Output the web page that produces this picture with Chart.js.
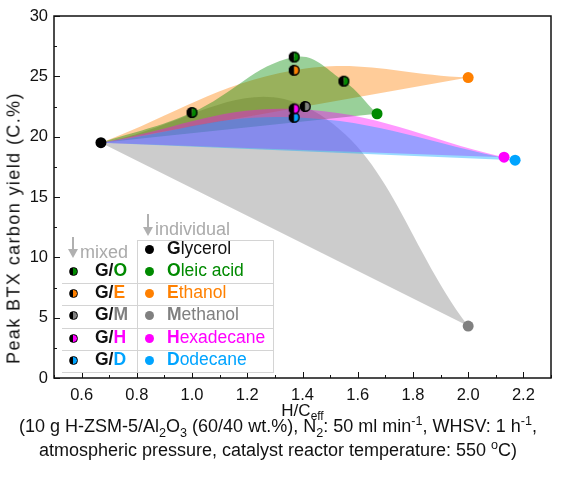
<!DOCTYPE html>
<html>
<head>
<meta charset="utf-8">
<script src="https://cdn.jsdelivr.net/npm/chart.js@4.4.0/dist/chart.umd.min.js"></script>
<style>
body { margin: 0; background: #fff; font-family: "Liberation Sans", Arial, sans-serif; }
#wrap { position: relative; width: 570px; height: 477px; overflow: hidden; }
#wrap canvas { position: absolute; left: 0; top: 0; }
.t { position: absolute; white-space: nowrap; color: #111; }
.t sub, .t sup { font-size: 70%; line-height: 0; }
#ytitle { left: 14px; top: 228px; font-size: 18px; letter-spacing: 1.4px; transform: translate(-50%, -50%) rotate(-90deg); }
#xtitle { left: 54px; width: 497px; top: 401px; text-align: center; font-size: 17px; }
.cap { left: 0; width: 556px; text-align: center; font-size: 18px; }
.lg { position: absolute; white-space: nowrap; font-size: 17.5px; line-height: 1; }
.hl { position: absolute; height: 0; border-top: 1px solid #d4d4d4; }
.vl { position: absolute; width: 0; border-left: 1px solid #d4d4d4; }
.dot { position: absolute; border-radius: 50%; }
.shaft { position: absolute; width: 2px; background: #b0b0b0; }
.head { position: absolute; width: 0; height: 0; border-left: 5px solid transparent; border-right: 5px solid transparent; border-top: 9px solid #b0b0b0; }
</style>
</head>
<body>
<div id="wrap">
  <canvas id="chart" width="570" height="477"></canvas>
  <div class="t" id="ytitle">Peak BTX carbon yield (C.%)</div>
  <div class="t" id="xtitle">H/C<sub>eff</sub></div>
  <div class="t cap" style="top:416px">(10 g H-ZSM-5/Al<sub>2</sub>O<sub>3</sub> (60/40 wt.%), N<sub>2</sub>: 50 ml min<sup>-1</sup>, WHSV: 1 h<sup>-1</sup>,</div>
  <div class="t cap" style="top:440px">atmospheric pressure, catalyst reactor temperature: 550 <sup>o</sup>C)</div>
  <div id="legend"></div>
</div>
<script>
// individual feeds (first one is glycerol)
const individualNames = ["Glycerol", "Oleic acid", "Ethanol", "Methanol", "Hexadecane", "Dodecane"];
const individualHC = [0.67, 1.67, 2.00, 2.00, 2.13, 2.17];
const individualBTX = [19.5, 21.9, 24.9, 4.3, 18.3, 18.05];
const colors = ["#000000", "#008a00", "#ff8000", "#808080", "#ff00ff", "#00a4ff"];

// glycerol co-feed mixtures, one per individual feed (Oleic .. Dodecane)
const mixedNames = ["G/O", "G/E", "G/M", "G/H", "G/D"];
const mixedHC = [[1.00, 1.37, 1.55], [1.37], [1.41], [1.37], [1.37]];
const mixedBTX = [[22.0, 26.6, 24.6], [25.5], [22.5], [22.3], [21.6]];

const xTicks = [0.6, 0.8, 1.0, 1.2, 1.4, 1.6, 1.8, 2.0, 2.2];
const yTicks = [0, 5, 10, 15, 20, 25, 30];

const FONT = "'Liberation Sans', Arial, sans-serif";

function rgba(hex, a) {
    let n = parseInt(hex.slice(1), 16);
    return `rgba(${n >> 16},${(n >> 8) & 255},${n & 255},${a})`;
}

// half black / half coloured marker for the mixtures
function halfMarker(color, r) {
    let c = document.createElement("canvas");
    let s = 2 * r + 2;
    c.width = c.height = s;
    let g = c.getContext("2d");
    g.beginPath(); g.arc(s / 2, s / 2, r, Math.PI / 2, Math.PI * 1.5); g.fillStyle = "#000"; g.fill();
    g.beginPath(); g.arc(s / 2, s / 2, r, -Math.PI / 2, Math.PI / 2); g.fillStyle = color; g.fill();
    g.beginPath(); g.arc(s / 2, s / 2, r - 0.7, 0, 2 * Math.PI); g.lineWidth = 1.4; g.strokeStyle = "#000"; g.stroke();
    return c;
}

let datasets = [];

// points on top
datasets.push({
    data: individualHC.map((x, i) => ({ x, y: individualBTX[i] })),
    showLine: false, pointRadius: 5.5, pointBorderWidth: 0,
    pointBackgroundColor: colors, order: 0
});
mixedNames.forEach((name, k) => {
    datasets.push({
        data: mixedHC[k].map((x, i) => ({ x, y: mixedBTX[k][i] })),
        showLine: false, pointStyle: halfMarker(colors[k + 1], 5.5), order: 0
    });
});

// shaded areas: curve through glycerol -> mixtures -> pure feed, closed by straight line back
const areaOrder = [8, 9, 10, 7, 6];
mixedNames.forEach((name, k) => {
    let j = k + 1;
    let g = { x: individualHC[0], y: individualBTX[0] };
    let end = { x: individualHC[j], y: individualBTX[j] };
    let mid = mixedHC[k].map((x, i) => ({ x, y: mixedBTX[k][i] }));
    datasets.push({
        data: [g, ...mid, end], tension: 0.4, borderWidth: 0, pointRadius: 0,
        fill: "+1", backgroundColor: rgba(colors[j], 0.4), order: areaOrder[k]
    });
    datasets.push({
        data: [g, end], tension: 0, borderWidth: 0, pointRadius: 0,
        fill: false, order: areaOrder[k]
    });
});

const frameTicks = {
    id: "frameTicks",
    afterDraw(chart) {
        let { ctx, chartArea: a, scales: { x, y } } = chart;
        ctx.save();
        ctx.strokeStyle = "#111";
        ctx.lineWidth = 1;
        ctx.beginPath();
        for (let v = 0; v <= 30.01; v += 2.5) {
            let py = Math.round(y.getPixelForValue(v)) + 0.5;
            let len = Math.abs(v % 5) < 0.01 ? 6 : 3;
            ctx.moveTo(a.left, py); ctx.lineTo(a.left + len, py);
        }
        for (let v = 0.5; v <= 2.31; v += 0.1) {
            let px = Math.round(x.getPixelForValue(v)) + 0.5;
            let major = xTicks.some(t => Math.abs(t - v) < 0.01);
            ctx.moveTo(px, a.bottom); ctx.lineTo(px, a.bottom - (major ? 6 : 3));
        }
        ctx.stroke();
        ctx.lineWidth = 1.5;
        ctx.strokeRect(a.left, a.top, a.right - a.left, a.bottom - a.top);
        ctx.restore();
    }
};

new Chart(document.getElementById("chart"), {
    type: "line",
    data: { datasets },
    options: {
        responsive: false,
        animation: false,
        layout: { padding: { top: 16, right: 19, left: 0, bottom: 0 } },
        plugins: { legend: { display: false }, tooltip: { enabled: false } },
        scales: {
            x: {
                type: "linear", min: 0.5, max: 2.3,
                afterBuildTicks: s => { s.ticks = xTicks.map(v => ({ value: v })); },
                afterFit: s => { s.height = 99; },
                ticks: { padding: 8, color: "#111", font: { size: 16.5, family: FONT }, maxRotation: 0, autoSkip: false,
                    callback: v => v.toFixed(1) },
                grid: { display: false, drawTicks: false },
                border: { display: false }
            },
            y: {
                type: "linear", min: 0, max: 30,
                afterBuildTicks: s => { s.ticks = yTicks.map(v => ({ value: v })); },
                afterFit: s => { s.width = 54; },
                ticks: { padding: 6, color: "#111", font: { size: 16.5, family: FONT } },
                grid: { display: false, drawTicks: false },
                border: { display: false }
            }
        }
    },
    plugins: [frameTicks]
});

// in-plot legend (mixed | individual table)
let lg = document.getElementById("legend");
let html = "";
function put(s) { html += s; }
function arrow(x, top, h) {
    put(`<div class="shaft" style="left:${x - 1}px;top:${top}px;height:${h - 8}px"></div>`);
    put(`<div class="head" style="left:${x - 5}px;top:${top + h - 9}px"></div>`);
}
arrow(73, 237, 21);
put(`<div class="lg" style="left:80px;top:243px;color:#aaa;font-size:18px">mixed</div>`);
arrow(148, 214, 22);
put(`<div class="lg" style="left:155px;top:220px;color:#aaa;font-size:18px">individual</div>`);
put(`<div class="vl" style="left:137px;top:240px;height:133px"></div>`);
put(`<div class="vl" style="left:273px;top:240px;height:133px"></div>`);
put(`<div class="hl" style="left:137px;top:240px;width:136px"></div>`);
[283, 305, 328, 350, 372].forEach(t => put(`<div class="hl" style="left:62px;top:${t}px;width:211px"></div>`));
const rowY = [249, 271, 293, 315, 338, 360];
individualNames.forEach((n, i) => {
    let cy = rowY[i];
    put(`<div class="dot" style="left:${149 - 4.5}px;top:${cy - 4.5}px;width:9px;height:9px;background:${colors[i]}"></div>`);
    put(`<div class="lg" style="left:167px;top:${cy - 9}px;color:${colors[i] == "#000000" ? "#111" : colors[i]}"><b>${n[0]}</b>${n.slice(1)}</div>`);
    if (i > 0) {
        let m = mixedNames[i - 1];
        put(`<div class="dot" style="left:${73 - 4.5}px;top:${cy - 4.5}px;width:7px;height:7px;border:1px solid #000;background:linear-gradient(to right,#000 50%,${colors[i]} 50%)"></div>`);
        put(`<div class="lg" style="left:95px;top:${cy - 9}px;font-weight:bold"><span style="color:#111">G/</span><span style="color:${colors[i]}">${m.slice(2)}</span></div>`);
    }
});
lg.innerHTML = html;
</script>
</body>
</html>
